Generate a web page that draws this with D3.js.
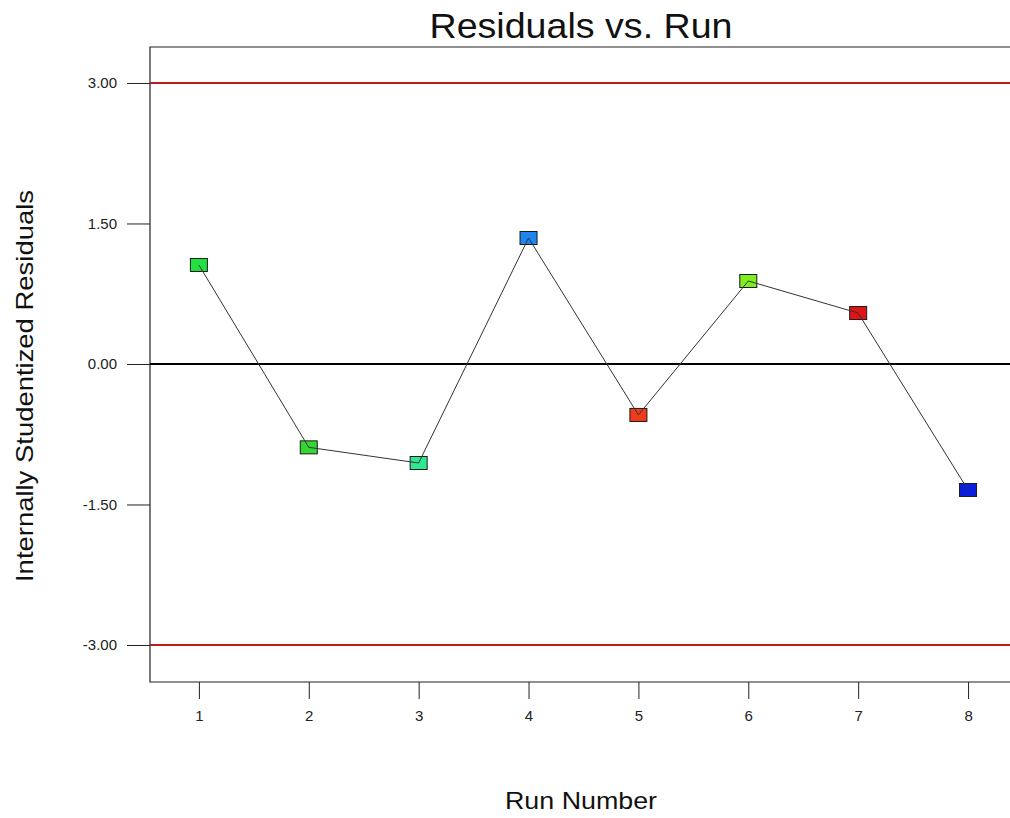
<!DOCTYPE html>
<html>
<head>
<meta charset="utf-8">
<script src="https://cdn.jsdelivr.net/npm/d3@7"></script>
<style>
  html, body { margin: 0; padding: 0; background: #fff; }
  svg { display: block; font-family: Arial, "Liberation Sans", sans-serif; }
</style>
</head>
<body>
<svg id="chart" width="1010" height="818"></svg>
<script>
// Run order and internally studentized residuals
const runs = [1, 2, 3, 4, 5, 6, 7, 8];
const residuals = [1.057, -0.89, -1.057, 1.345, -0.544, 0.886, 0.544, -1.345];
const pointColors = ["#22e040", "#33d633", "#2ee892", "#1f86f0", "#f03c1c", "#80ee1e", "#e01414", "#0a1ee0"];
const yTicks = [-3, -1.5, 0, 1.5, 3];
const limits = [3, -3];

const svg = d3.select("#chart");
const margin = { left: 150, top: 47, right: 1012, bottom: 682 };

const x = d3.scaleLinear().domain([0.555, 8.4]).range([margin.left, margin.right]);
const y = d3.scaleLinear().domain([-3.395, 3.384]).range([margin.bottom, margin.top]);

// Plain hyphen for negative tick values
const fmt = d3.formatLocale({ decimal: ".", thousands: ",", grouping: [3], currency: ["$", ""], minus: "-" }).format(".2f");

// Plot frame (left, top, bottom)
svg.append("path")
  .attr("d", `M${margin.right},${margin.top}H${margin.left}V${margin.bottom}H${margin.right}`)
  .attr("fill", "none").attr("stroke", "#222").attr("stroke-width", 1.2);

// Y axis
const yAxis = svg.append("g")
  .attr("transform", `translate(${margin.left},0)`)
  .call(d3.axisLeft(y).tickValues(yTicks).tickFormat(fmt).tickSize(23).tickPadding(10));
yAxis.select(".domain").remove();
yAxis.selectAll("line").attr("stroke", "#222");
yAxis.selectAll("text").attr("font-size", 15).attr("fill", "#222").attr("font-family", "Arial, 'Liberation Sans', sans-serif");

// X axis
const xAxis = svg.append("g")
  .attr("transform", `translate(0,${margin.bottom})`)
  .call(d3.axisBottom(x).tickValues(runs).tickFormat(d3.format("d")).tickSize(17).tickPadding(11));
xAxis.select(".domain").remove();
xAxis.selectAll("line").attr("stroke", "#222");
xAxis.selectAll("text").attr("font-size", 15).attr("fill", "#222").attr("font-family", "Arial, 'Liberation Sans', sans-serif");

// Control limits
svg.selectAll(".limit").data(limits).join("line")
  .attr("class", "limit")
  .attr("x1", margin.left).attr("x2", margin.right)
  .attr("y1", d => y(d)).attr("y2", d => y(d))
  .attr("stroke", "#b81c1c").attr("stroke-width", 2);

// Zero reference line
svg.append("line")
  .attr("x1", margin.left).attr("x2", margin.right)
  .attr("y1", y(0)).attr("y2", y(0))
  .attr("stroke", "#000").attr("stroke-width", 2);

// Point markers
const mw = 17, mh = 13;
svg.selectAll(".pt").data(runs).join("rect")
  .attr("class", "pt")
  .attr("x", (d, i) => x(d) - mw / 2)
  .attr("y", (d, i) => y(residuals[i]) - mh / 2)
  .attr("width", mw).attr("height", mh)
  .attr("fill", (d, i) => pointColors[i])
  .attr("stroke", "#1a1a1a").attr("stroke-width", 1);

// Connecting line
svg.append("path")
  .datum(runs)
  .attr("d", d3.line().x(d => x(d)).y((d, i) => y(residuals[i])))
  .attr("fill", "none").attr("stroke", "#333").attr("stroke-width", 1);

// Title and axis titles (slightly widened lettering)
svg.append("text")
  .attr("x", 581).attr("y", 38).attr("text-anchor", "middle")
  .attr("font-size", 35).attr("fill", "#111")
  .attr("textLength", 303).attr("lengthAdjust", "spacingAndGlyphs")
  .text("Residuals vs. Run");

svg.append("text")
  .attr("x", 581).attr("y", 809).attr("text-anchor", "middle")
  .attr("font-size", 24).attr("fill", "#111")
  .attr("textLength", 152).attr("lengthAdjust", "spacingAndGlyphs")
  .text("Run Number");

svg.append("text")
  .attr("transform", "translate(33,386) rotate(-90)")
  .attr("text-anchor", "middle")
  .attr("font-size", 24).attr("fill", "#111")
  .attr("textLength", 392).attr("lengthAdjust", "spacingAndGlyphs")
  .text("Internally Studentized Residuals");
</script>
</body>
</html>
